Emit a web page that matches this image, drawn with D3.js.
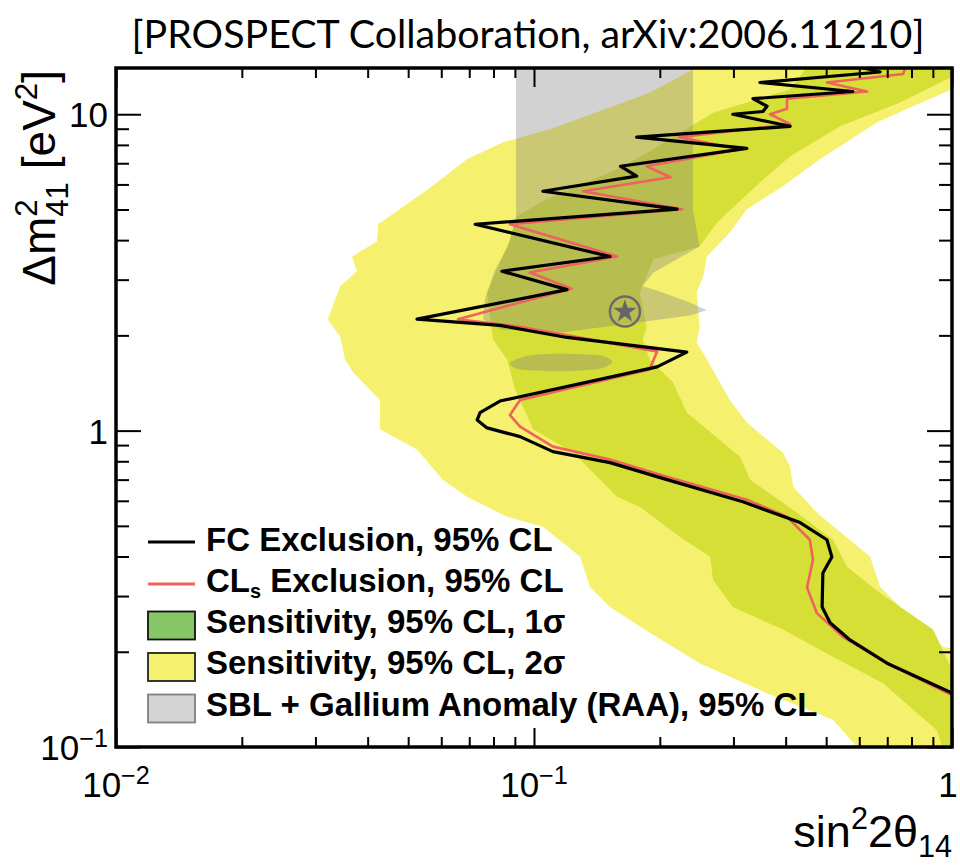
<!DOCTYPE html>
<html>
<head>
<meta charset="utf-8">
<script src="https://cdn.jsdelivr.net/npm/d3@7"></script>
<style>
  body { margin: 0; background: #fff; }
  svg { display: block; }
</style>
</head>
<body>
<svg id="chart" width="960" height="867"></svg>
<script>
// Exclusion contours: [sin^2(2θ14), Δm^2_41 (eV^2)]
const fcExclusion = [
  [0.555,14.5],[0.673,13.6],[0.347,12.6],[0.579,11.8],[0.334,11.2],[0.361,10.6],[0.353,10.2],
  [0.299,10.0],[0.410,9.16],[0.176,8.46],[0.323,7.80],[0.161,6.85],[0.176,6.37],[0.105,5.71],
  [0.220,5.01],[0.0723,4.49],[0.152,3.55],[0.0838,3.19],[0.120,2.79],[0.0525,2.25],[0.0829,2.15],
  [0.120,1.97],[0.232,1.77],[0.197,1.59],[0.0829,1.24],[0.0743,1.14],[0.0731,1.08],[0.0772,1.02],
  [0.0926,0.957],[0.111,0.858],[0.152,0.792],[0.208,0.700],[0.316,0.596],[0.433,0.512],
  [0.502,0.452],[0.516,0.399],[0.491,0.355],[0.489,0.277],[0.511,0.247],[0.570,0.218],
  [0.699,0.184],[1.0,0.148]
];
const clsExclusion = [
  [0.78,14.5],[0.764,13.4],[0.502,12.6],[0.626,11.8],[0.403,11.2],[0.403,10.4],[0.367,10.0],
  [0.410,9.30],[0.223,8.46],[0.311,7.75],[0.186,6.85],[0.212,6.32],[0.131,5.71],[0.226,5.01],
  [0.0876,4.49],[0.158,3.55],[0.0977,3.16],[0.123,2.81],[0.0658,2.25],[0.0926,2.13],[0.120,2.0],
  [0.197,1.78],[0.189,1.56],[0.0926,1.25],[0.0876,1.12],[0.0926,1.03],[0.111,0.890],[0.152,0.810],
  [0.208,0.715],[0.323,0.605],[0.403,0.534],[0.457,0.452],[0.465,0.391],[0.450,0.319],
  [0.475,0.265],[0.548,0.223],[0.699,0.184],[1.0,0.146]
];
// Sensitivity bands (closed regions)
const sens2Sigma = [
  [0.256,14.5],[0.189,11.7],[0.127,9.64],[0.109,8.97],[0.0843,8.15],[0.0691,7.21],[0.0558,5.79],
  [0.0424,4.49],[0.0421,3.96],[0.0367,3.55],[0.0377,3.19],[0.0344,2.86],[0.0321,2.25],[0.0344,1.98],
  [0.0353,1.68],[0.0369,1.53],[0.0428,1.25],[0.0428,1.01],[0.0525,0.871],[0.0605,0.700],
  [0.0691,0.618],[0.0862,0.534],[0.105,0.497],[0.129,0.399],[0.136,0.321],[0.152,0.277],
  [0.189,0.230],[0.249,0.184],[0.361,0.148],[0.519,0.122],[0.593,0.1],[0.61,0.097],[1.05,0.097],
  [1.05,0.203],[0.952,0.207],[0.807,0.252],[0.673,0.321],[0.637,0.399],[0.475,0.550],[0.417,0.665],
  [0.410,0.769],[0.394,0.852],[0.323,1.06],[0.294,1.25],[0.259,1.68],[0.245,1.90],[0.249,2.13],
  [0.245,2.73],[0.254,3.07],[0.259,3.55],[0.294,4.23],[0.323,5.01],[0.394,5.92],[0.483,7.21],
  [0.540,7.92],[0.662,9.43],[0.807,10.6],[1.0,12.0],[1.05,12.2],[1.05,14.5]
];
const sens1Sigma = [
  [0.457,14.5],[0.410,12.0],[0.268,10.1],[0.193,7.75],[0.158,6.70],[0.107,5.38],[0.0910,4.76],
  [0.0876,4.02],[0.0772,2.73],[0.0798,1.94],[0.0862,1.68],[0.0901,1.35],[0.0995,1.01],[0.124,0.852],
  [0.158,0.618],[0.179,0.575],[0.223,0.462],[0.264,0.399],[0.268,0.338],[0.299,0.277],[0.394,0.235],
  [0.519,0.193],[0.684,0.159],[0.920,0.113],[0.955,0.097],[1.05,0.097],[1.05,0.175],[1.0,0.175],
  [0.901,0.235],[0.673,0.307],[0.561,0.371],[0.519,0.452],[0.426,0.550],[0.329,0.700],[0.311,0.827],
  [0.232,1.14],[0.215,1.42],[0.189,1.68],[0.182,1.94],[0.186,2.13],[0.179,2.73],[0.193,3.48],
  [0.249,3.82],[0.274,4.55],[0.347,6.09],[0.410,7.36],[0.540,9.16],[0.751,10.9],[0.973,12.9],
  [1.05,13.4],[1.05,14.5]
];
// SBL + Gallium anomaly allowed region
const raaRegion = [
  [0.0906,14.5],[0.0906,4.76],[0.0867,3.82],[0.0807,3.23],[0.0763,2.60],[0.0755,2.25],[0.0829,2.09],
  [0.115,2.04],[0.179,2.20],[0.236,2.31],[0.259,2.40],[0.236,2.54],[0.200,2.75],[0.182,2.86],
  [0.193,3.16],[0.249,3.82],[0.240,5.01],[0.240,14.5]
];
const raaIsland = [
  [0.0876,1.64],[0.0977,1.73],[0.115,1.75],[0.144,1.73],[0.154,1.65],[0.144,1.57],[0.115,1.54],[0.0926,1.56]
];
const bestFit = [0.165, 2.38];

const xMajor = [0.01, 0.1, 1];
const xTickLabels = ["10^{\u22122}", "10^{\u22121}", "1"];
const yMajor = [0.1, 1, 10];
const yTickLabels = ["10^{\u22121}", "1", "10"];
const legendLabels = [
  "FC Exclusion, 95% CL",
  "CL_{s} Exclusion, 95% CL",
  "Sensitivity, 95% CL, 1\u03c3",
  "Sensitivity, 95% CL, 2\u03c3",
  "SBL + Gallium Anomaly (RAA), 95% CL"
];
const titleText = "[PROSPECT Collaboration, arXiv:2006.11210]";
const xTitle = "sin^{2}2\u03b8_{14}";
const yTitle = "\u0394m^{2}_{41} [eV^{2}]";

// ---- layout ----
const L = 116, R = 952, T = 68, B = 747;
const x = d3.scaleLog().domain([0.01, 1]).range([L, R]);
const y = d3.scaleLog().domain([0.1, 14]).range([B, T]);

const svg = d3.select("#chart");
svg.append("defs").append("clipPath").attr("id", "plotArea")
  .append("rect").attr("x", L).attr("y", T).attr("width", R - L).attr("height", B - T);

const plot = svg.append("g").attr("clip-path", "url(#plotArea)");
const line = d3.line().x(d => x(d[0])).y(d => y(d[1]));
const closed = d3.line().x(d => x(d[0])).y(d => y(d[1])).curve(d3.curveLinearClosed);
const smooth = d3.line().x(d => x(d[0])).y(d => y(d[1])).curve(d3.curveCardinalClosed.tension(0.3));

plot.append("path").attr("d", closed(sens2Sigma)).attr("fill", "#f5f06e");
plot.append("path").attr("d", closed(sens1Sigma)).attr("fill", "#d6df36");
plot.append("path").attr("d", closed(raaRegion)).attr("fill", "#7f7f7f").attr("fill-opacity", 0.35);
plot.append("path").attr("d", smooth(raaIsland)).attr("fill", "#7f7f7f").attr("fill-opacity", 0.35);

// best-fit marker
const bf = plot.append("g").attr("transform", `translate(${x(bestFit[0])},${y(bestFit[1])})`);
bf.append("circle").attr("r", 15).attr("fill", "none").attr("stroke", "#6b6b6b").attr("stroke-width", 2.5);
bf.append("path").attr("d", d3.symbol(d3.symbolStar).size(170)()).attr("fill", "#666");

plot.append("path").attr("d", line(clsExclusion)).attr("fill", "none")
  .attr("stroke", "#f0625e").attr("stroke-width", 2.6).attr("stroke-linejoin", "round");
plot.append("path").attr("d", line(fcExclusion)).attr("fill", "none")
  .attr("stroke", "#000").attr("stroke-width", 3.2).attr("stroke-linejoin", "round");

// ---- axes (ticks drawn on all four sides, pointing inward) ----
const minorOf = (lo, hi) => {
  const out = [];
  for (let e = lo; e < hi; e *= 10) for (let k = 2; k <= 9; k++) out.push(k * e);
  return out;
};
const xMinor = minorOf(0.01, 1);
const yMinor = minorOf(0.1, 10);

function tickAxis(axisFn, scale, values, size, tx, ty) {
  const g = svg.append("g").attr("transform", `translate(${tx},${ty})`)
    .call(axisFn(scale).tickValues(values).tickSize(-size).tickFormat(""));
  g.select(".domain").remove();
  g.selectAll(".tick line").attr("stroke", "#000").attr("stroke-width", 2);
  return g;
}
tickAxis(d3.axisBottom, x, xMinor, 10, 0, B);
tickAxis(d3.axisBottom, x, xMajor, 19, 0, B);
tickAxis(d3.axisTop, x, xMinor, 10, 0, T);
tickAxis(d3.axisTop, x, xMajor, 19, 0, T);
tickAxis(d3.axisLeft, y, yMinor, 13, L, 0);
tickAxis(d3.axisLeft, y, yMajor, 25, L, 0);
tickAxis(d3.axisRight, y, yMinor, 13, R, 0);
tickAxis(d3.axisRight, y, yMajor, 25, R, 0);

svg.append("rect").attr("x", L).attr("y", T).attr("width", R - L).attr("height", B - T)
  .attr("fill", "none").attr("stroke", "#000").attr("stroke-width", 3.5);

// rich text: ^{..} superscript, _{..} subscript; a subscript right after a
// superscript is stacked beneath it
function rich(sel, str, size, supK = 0.42, subK = 0.3, scriptK = 0.68) {
  const parts = str.split(/(\^\{[^}]*\}|_\{[^}]*\})/).filter(s => s.length);
  let shift = 0, prev = null, prevKind = "n";
  parts.forEach(p => {
    let kind = "n", t = p;
    if (p.startsWith("^{")) { kind = "sup"; t = p.slice(2, -1); }
    else if (p.startsWith("_{")) { kind = "sub"; t = p.slice(2, -1); }
    const target = kind === "sup" ? -supK * size : kind === "sub" ? subK * size : 0;
    const ts = sel.append("tspan").attr("dy", target - shift).text(t);
    if (kind !== "n") ts.attr("font-size", scriptK * size);
    if (kind === "sub" && prevKind === "sup" && prev) ts.attr("dx", -prev.node().getComputedTextLength());
    shift = target; prev = ts; prevKind = kind;
  });
}

const tickFont = "'Liberation Sans', Arial, Helvetica, sans-serif";
xMajor.forEach((v, i) => {
  const t = svg.append("text").attr("x", Math.min(x(v), 948)).attr("y", 797).attr("text-anchor", "middle")
    .attr("font-family", tickFont).attr("font-size", 35).attr("fill", "#000");
  rich(t, xTickLabels[i], 35, 0.38, 0.3, 0.72);
});
yMajor.forEach((v, i) => {
  const t = svg.append("text").attr("x", 108).attr("y", y(v) + 13).attr("text-anchor", "end")
    .attr("font-family", tickFont).attr("font-size", 35).attr("fill", "#000");
  rich(t, yTickLabels[i], 35, 0.38, 0.3, 0.72);
});

// axis titles
const xt = svg.append("text").attr("x", 952).attr("y", 847).attr("text-anchor", "end")
  .attr("font-family", tickFont).attr("font-size", 45).attr("fill", "#000");
rich(xt, xTitle, 45, 0.4, 0.22, 0.68);

const yt = svg.append("text").attr("transform", "translate(55,70) rotate(-90)").attr("text-anchor", "end")
  .attr("font-family", tickFont).attr("font-size", 46).attr("fill", "#000");
rich(yt, yTitle, 46, 0.4, 0.28, 0.68);

// title
svg.append("text").attr("x", 528).attr("y", 48).attr("text-anchor", "middle")
  .attr("font-family", "Lato, 'Open Sans', sans-serif").attr("font-size", 38).attr("fill", "#000")
  .attr("textLength", 793).attr("lengthAdjust", "spacingAndGlyphs")
  .text(titleText);

// legend
const legendRows = [542, 584, 625.5, 667, 708.5];
const legendBase = [551, 592, 633, 674, 716];
const legendKeys = [
  { type: "line", color: "#000", width: 3.2 },
  { type: "line", color: "#f0625e", width: 3 },
  { type: "box", fill: "#86c665", stroke: "#111" },
  { type: "box", fill: "#f5f06e", stroke: "#222" },
  { type: "box", fill: "#d4d4d4", stroke: "#808080" }
];
const lg = svg.append("g");
legendLabels.forEach((lab, i) => {
  const cy = legendRows[i], k = legendKeys[i];
  if (k.type === "line") {
    lg.append("line").attr("x1", 148).attr("x2", 195).attr("y1", cy).attr("y2", cy)
      .attr("stroke", k.color).attr("stroke-width", k.width);
  } else {
    lg.append("rect").attr("x", 148).attr("y", cy - 14).attr("width", 47).attr("height", 28)
      .attr("fill", k.fill).attr("stroke", k.stroke).attr("stroke-width", 1.8);
  }
  const t = lg.append("text").attr("x", 206).attr("y", legendBase[i])
    .attr("font-family", tickFont).attr("font-weight", "bold").attr("font-size", 33).attr("fill", "#000");
  rich(t, lab, 33, 0.4, 0.17, 0.6);
});
</script>
</body>
</html>
